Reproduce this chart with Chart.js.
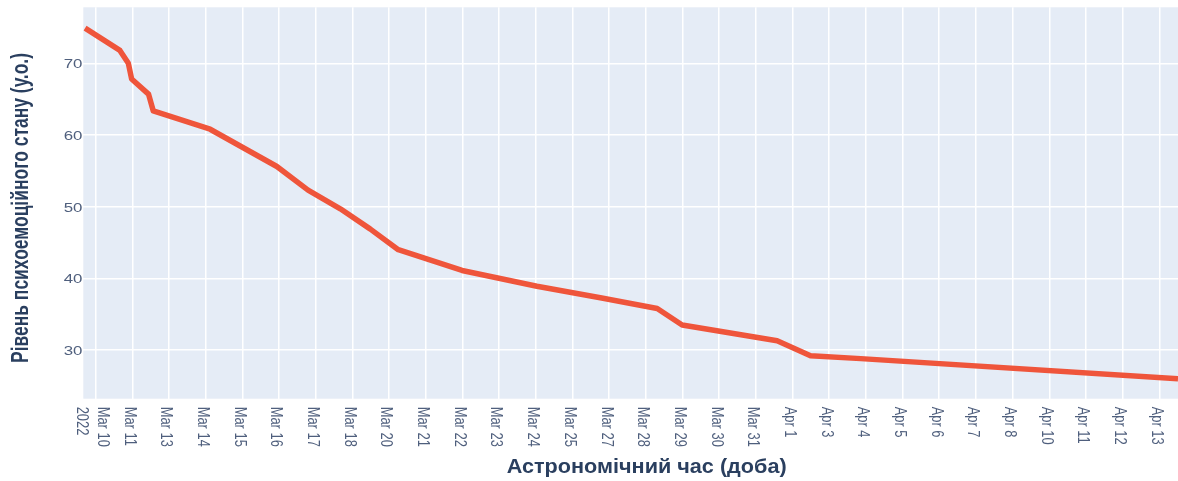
<!DOCTYPE html>
<html>
<head>
<meta charset="utf-8">
<script src="https://cdn.jsdelivr.net/npm/chart.js@4"></script>
<style>
  html, body { margin: 0; padding: 0; background: #ffffff; }
  #wrap { width: 1178px; height: 481px; }
</style>
</head>
<body>
<div id="wrap"><canvas id="c" width="1178" height="481"></canvas></div>
<script>
// ---- data ----
const tickLabels = ["Mar 10","Mar 11","Mar 13","Mar 14","Mar 15","Mar 16","Mar 17","Mar 18","Mar 20",
  "Mar 21","Mar 22","Mar 23","Mar 24","Mar 25","Mar 27","Mar 28","Mar 29","Mar 30","Mar 31",
  "Apr 1","Apr 3","Apr 4","Apr 5","Apr 6","Apr 7","Apr 8","Apr 10","Apr 11","Apr 12","Apr 13"];
const yearLabel = "2022";
// position on the time axis, in tick units (0 = "Mar 10")
const timePos = [-0.29, 0.66, 0.89, 0.98, 1.44, 1.57, 3.12, 4.94, 5.79, 6.67, 7.48, 8.25,
  9.99, 12.03, 13.76, 15.31, 15.99, 18.58, 19.49, 20.86, 29.51];
const levels = [74.9, 71.8, 70.0, 67.8, 65.7, 63.35, 60.8, 55.6, 52.3, 49.7, 46.9, 44.0,
  41.1, 38.9, 37.3, 35.8, 33.5, 31.3, 29.2, 28.8, 26.0];
const yTicks = [30, 40, 50, 60, 70];
const xTitle = "Астрономічний час (доба)";
const yTitle = "Рівень психоемоційного стану (у.о.)";

const TITLE_COLOR = "#2a3f5f";
const TICK_COLOR = "#4f5f7d";
const FONT = "'Liberation Sans', Arial, sans-serif";

// draws text; alongTarget fits length (0 = natural), alongScale/acrossScale stretch glyphs
function drawText(ctx, text, x, y, rot, font, color, alongTarget, alongScale, acrossScale, align) {
  ctx.save();
  ctx.font = font;
  const w = ctx.measureText(text).width;
  const sAlong = alongTarget ? alongTarget / w : alongScale;
  ctx.translate(x, y);
  ctx.rotate(rot);
  ctx.scale(sAlong, acrossScale);
  ctx.textAlign = align;
  ctx.textBaseline = "alphabetic";
  ctx.fillStyle = color;
  ctx.fillText(text, 0, 0);
  ctx.restore();
}

const plotBg = {
  id: "plotBg",
  beforeDraw(chart) {
    const a = chart.chartArea, ctx = chart.ctx;
    ctx.save();
    ctx.fillStyle = "#E5ECF6";
    ctx.fillRect(a.left, a.top, a.right - a.left, a.bottom - a.top);
    ctx.restore();
  }
};

const labelsPlugin = {
  id: "labelsPlugin",
  afterDraw(chart) {
    const ctx = chart.ctx;
    const xs = chart.scales.x, ys = chart.scales.y;
    const a = chart.chartArea;
    // y tick labels
    const yf = 12.5;
    yTicks.forEach(v => {
      const py = ys.getPixelForValue(v);
      drawText(ctx, String(v), a.left - 0.8, py + 0.5 + 0.358 * yf, 0,
        yf + "px " + FONT, TICK_COLOR, 0, 1.35, 1, "right");
    });
    // x tick labels (rotated clockwise, reading downward)
    const xf = 12.9, across = 1.22;
    const capHalf = 0.358 * xf * across;
    const top = a.bottom + 8;
    tickLabels.forEach((lab, i) => {
      const px = xs.getPixelForValue(i);
      if (i === 0) {
        drawText(ctx, lab, px + 8.3 - capHalf, top, Math.PI / 2, xf + "px " + FONT, TICK_COLOR, 0, 1, across, "left");
        drawText(ctx, yearLabel, px - 13.5 - capHalf, top, Math.PI / 2, xf + "px " + FONT, TICK_COLOR, 0, 1, across, "left");
      } else {
        drawText(ctx, lab, px - 2 - capHalf, top, Math.PI / 2, xf + "px " + FONT, TICK_COLOR, 0, 1, across, "left");
      }
    });
    // x title
    const cx = (a.left + a.right) / 2 + 16;
    drawText(ctx, xTitle, cx, 473.3, 0, "bold 19.5px " + FONT, TITLE_COLOR, 280, 1, 1, "center");
    // y title (rotated counter-clockwise)
    const cy = (a.top + a.bottom) / 2 + 5;
    drawText(ctx, yTitle, 28.3, cy, -Math.PI / 2, "bold 16.7px " + FONT, TITLE_COLOR, 310, 1, 1.39, "center");
  }
};

new Chart(document.getElementById("c"), {
  type: "line",
  data: {
    datasets: [{
      data: timePos.map((t, i) => ({ x: t, y: levels[i] })),
      borderColor: "#EF553B",
      backgroundColor: "#EF553B",
      borderWidth: 5.5,
      pointRadius: 0,
      tension: 0,
      borderJoinStyle: "round",
      borderCapStyle: "butt",
      clip: 0,
      fill: false
    }]
  },
  options: {
    responsive: false,
    animation: false,
    events: [],
    layout: { padding: { top: 7.3, right: 0, bottom: 0, left: 0 } },
    plugins: { legend: { display: false }, tooltip: { enabled: false } },
    scales: {
      x: {
        type: "linear",
        min: -0.338,
        max: 29.51,
        afterBuildTicks: s => { s.ticks = tickLabels.map((_, i) => ({ value: i })); },
        afterFit: s => { s.height = 82.3; },
        ticks: { display: false },
        grid: { color: "#ffffff", lineWidth: 1.5, drawTicks: false },
        border: { display: false }
      },
      y: {
        type: "linear",
        min: 23.21,
        max: 77.81,
        afterBuildTicks: s => { s.ticks = yTicks.map(v => ({ value: v })); },
        afterFit: s => { s.width = 83.3; },
        ticks: { display: false },
        grid: { color: "#ffffff", lineWidth: 1.5, drawTicks: false },
        border: { display: false }
      }
    }
  },
  plugins: [plotBg, labelsPlugin]
});
</script>
</body>
</html>
